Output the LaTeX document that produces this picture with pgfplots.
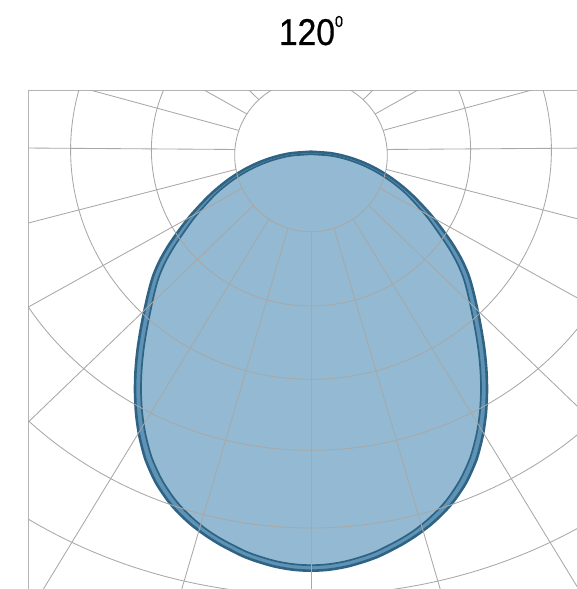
\documentclass[border=0pt]{standalone}
\usepackage{pgfplots}
\pgfplotsset{compat=1.18}
\usepackage{pgfplotstable}
\usepackage{fontspec}
\setmainfont{Liberation Sans}
\newfontfamily\titlefont[FakeBold=0.6]{Liberation Sans}
\usepackage{graphicx}
\definecolor{gridc}{HTML}{A8A8A8}
\definecolor{framec}{HTML}{B4B4B4}
\definecolor{fillc}{HTML}{93BAD2}
\definecolor{bandc}{HTML}{5F93B6}
\definecolor{edgec}{HTML}{2F6384}

\pgfplotstableread{
x y
311 151.7
329.3 153
340.2 155
351.2 158
362.2 162
373.1 167
383.7 173
394.2 180
406.7 190
417.2 200
431 215
442.7 230
453.2 245
461.9 260
468.5 275
472.9 290
477.5 310
481.4 330
484.5 350
486.4 370
487 390
486.2 410
484.5 425
482 439
476.3 460
466.3 482.3
454.6 500
444.1 512.3
430.4 525
416 535.7
401.1 545
381.6 555
372 559
360.9 562.7
346.5 566.7
328.8 569.7
311 570.7
293.2 569.7
275.5 566.7
261.1 562.7
250 559
240.4 555
220.9 545
206 535.7
191.6 525
177.9 512.3
167.4 500
155.7 482.3
145.7 460
140 439
137.5 425
135.8 410
135 390
135.6 370
137.5 350
140.6 330
144.5 310
149.1 290
153.5 275
160.1 260
168.8 245
179.3 230
191 215
204.8 200
215.3 190
227.8 180
238.3 173
248.9 167
259.8 162
270.8 158
281.8 155
292.7 153
311 151.7
}\outercurve

\pgfplotstableread{
x y
311 154.2
329.04 155.49
339.67 157.44
350.43 160.48
361.19 164.5
371.83 169.5
382.18 175.47
392.43 182.42
404.6 192.42
414.52 202.61
427.64 217.71
438.6 232.9
448.7 247.85
456.94 262.55
463.18 277.13
467.31 291.73
471.65 311.37
475.49 331
478.55 350.65
480.41 370.36
481.01 390
480.1 409.55
478.32 424.11
475.78 437.59
470.17 457.79
460.49 479.08
449.51 496.15
439.69 508.04
426.69 520.5
412.97 531.23
398.4 540.2
379.32 550
370.09 553.84
359.3 557.44
345.38 561.32
328.34 564.22
311 565.2
293.66 564.22
276.62 561.32
262.7 557.44
251.91 553.84
242.68 550
223.6 540.2
209.03 531.23
195.31 520.5
182.31 508.04
172.49 496.15
161.51 479.08
151.83 457.79
146.22 437.59
143.68 424.11
141.9 409.55
140.99 390
141.59 370.36
143.45 350.65
146.51 331
150.35 311.37
154.69 291.73
158.82 277.13
165.06 262.55
173.3 247.85
183.4 232.9
194.36 217.71
207.48 202.61
217.4 192.42
229.57 182.42
239.82 175.47
250.17 169.5
260.81 164.5
271.57 160.48
282.33 157.44
292.96 155.49
311 154.2
}\innercurve

\begin{document}
\begin{tikzpicture}
\begin{axis}[
  x=1pt, y=1pt,
  y dir=reverse,
  xmin=28.3, xmax=600, ymin=90, ymax=610,
  axis line style={framec, line width=1pt},
  xtick=\empty, ytick=\empty,
  clip=true,
]
% light distribution curves
\addplot[fill=bandc, draw=edgec, line width=2.6pt, smooth, tension=0.5] table[x=x,y=y] {\outercurve} -- cycle;
\addplot[fill=fillc, draw=edgec, line width=1.7pt, smooth, tension=0.5] table[x=x,y=y] {\innercurve} -- cycle;

% grid rings
\draw[gridc, line width=0.85pt] (axis cs:311,155.4) circle[radius=76.3pt];
\draw[gridc, line width=0.85pt] (axis cs:311,150) ellipse[x radius=159.6pt, y radius=156pt];
\draw[gridc, line width=0.85pt] (axis cs:311,150) ellipse[x radius=240.4pt, y radius=229.3pt];
\draw[gridc, line width=0.85pt] (axis cs:311,150) ellipse[x radius=331.5pt, y radius=300.3pt];
\draw[gridc, line width=0.85pt] (axis cs:311,150) ellipse[x radius=405pt, y radius=378pt];
\draw[gridc, line width=0.85pt] (axis cs:311,150) ellipse[x radius=505.5pt, y radius=445.2pt];

% spokes
\draw[gridc, line width=0.85pt] (axis cs:311,150) ++(-90:81.7pt) -- ++(-90:900pt);
\draw[gridc, line width=0.85pt] (axis cs:311,150) ++(-106.4:81.46pt) -- ++(-106.4:900pt);
\draw[gridc, line width=0.85pt] (axis cs:311,150) ++(-73.6:81.46pt) -- ++(-73.6:900pt);
\draw[gridc, line width=0.85pt] (axis cs:311,150) ++(-121.36:80.86pt) -- ++(-121.36:900pt);
\draw[gridc, line width=0.85pt] (axis cs:311,150) ++(-58.64:80.86pt) -- ++(-58.64:900pt);
\draw[gridc, line width=0.85pt] (axis cs:311,150) ++(-136.1:79.94pt) -- ++(-136.1:900pt);
\draw[gridc, line width=0.85pt] (axis cs:311,150) ++(-43.9:79.94pt) -- ++(-43.9:900pt);
\draw[gridc, line width=0.85pt] (axis cs:311,150) ++(-150.95:78.85pt) -- ++(-150.95:900pt);
\draw[gridc, line width=0.85pt] (axis cs:311,150) ++(-29.05:78.85pt) -- ++(-29.05:900pt);
\draw[gridc, line width=0.85pt] (axis cs:311,150) ++(-165.52:77.47pt) -- ++(-165.52:900pt);
\draw[gridc, line width=0.85pt] (axis cs:311,150) ++(-14.48:77.47pt) -- ++(-14.48:900pt);
\draw[gridc, line width=0.85pt] (axis cs:311,150) ++(-180.4:76.07pt) -- ++(-180.4:900pt);
\draw[gridc, line width=0.85pt] (axis cs:311,150) ++(0.4:76.07pt) -- ++(0.4:900pt);
\draw[gridc, line width=0.85pt] (axis cs:311,150) ++(164.8:74.7pt) -- ++(164.8:900pt);
\draw[gridc, line width=0.85pt] (axis cs:311,150) ++(15.2:74.7pt) -- ++(15.2:900pt);
\draw[gridc, line width=0.85pt] (axis cs:311,150) ++(150.7:73.5pt) -- ++(150.7:900pt);
\draw[gridc, line width=0.85pt] (axis cs:311,150) ++(29.3:73.5pt) -- ++(29.3:900pt);
\draw[gridc, line width=0.85pt] (axis cs:311,150) ++(136:72.45pt) -- ++(136:900pt);
\draw[gridc, line width=0.85pt] (axis cs:311,150) ++(44:72.45pt) -- ++(44:900pt);

\coordinate (title) at (axis cs:311,45);
\coordinate (pTL) at (axis cs:0,0);
\coordinate (pBR) at (axis cs:577,589);
\end{axis}
\node[anchor=base, inner sep=0pt] at (title) {\titlefont\scalebox{0.9}[1]{\fontsize{37.3}{40}\selectfont 120\raisebox{18pt}{\fontsize{16}{16}\selectfont 0}}};
\pgfresetboundingbox
\useasboundingbox (pTL) rectangle (pBR);
\end{tikzpicture}
\end{document}
